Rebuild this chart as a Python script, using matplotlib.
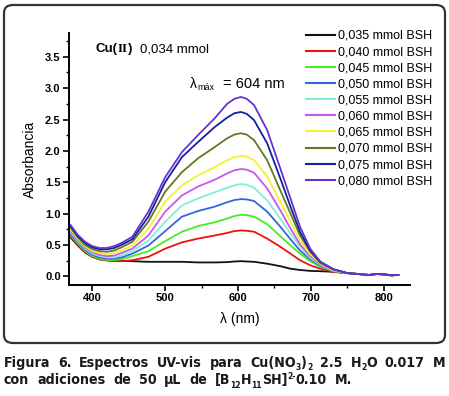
import matplotlib
matplotlib.use("Agg")
import matplotlib.pyplot as plt
from matplotlib import font_manager
from matplotlib.patches import FancyBboxPatch
from matplotlib.ticker import MultipleLocator, FormatStrFormatter
from matplotlib.lines import Line2D

plt.rcParams['font.family'] = ['Liberation Sans', 'DejaVu Sans']

# datos
wl = [370, 380, 390, 400, 410, 420, 430, 440, 455, 477, 500, 523, 545, 568, 585, 595,
      604, 612, 622, 640, 658, 672, 685, 699, 713, 731, 750, 770, 780, 790, 800, 810, 820]
tail = [0.03, 0.02, 0.035, 0.03, 0.015, 0.02]

a035 = [0.62, 0.49, 0.38, 0.31, 0.27, 0.26, 0.25, 0.245, 0.24, 0.23, 0.23, 0.23, 0.22, 0.22, 0.225, 0.235,
        0.24, 0.235, 0.23, 0.20, 0.16, 0.12, 0.10, 0.085, 0.08, 0.07, 0.05] + tail
a040 = [0.63, 0.50, 0.39, 0.31, 0.27, 0.25, 0.24, 0.24, 0.255, 0.31, 0.44, 0.54, 0.60, 0.65, 0.69, 0.72,
        0.73, 0.725, 0.71, 0.60, 0.47, 0.36, 0.255, 0.175, 0.12, 0.07, 0.05] + tail
a045 = [0.66, 0.52, 0.40, 0.32, 0.28, 0.26, 0.26, 0.27, 0.32, 0.40, 0.56, 0.71, 0.80, 0.86, 0.92, 0.96,
        0.98, 0.975, 0.95, 0.83, 0.64, 0.49, 0.36, 0.24, 0.15, 0.08, 0.05] + tail
a050 = [0.68, 0.54, 0.42, 0.34, 0.30, 0.28, 0.28, 0.30, 0.36, 0.49, 0.72, 0.95, 1.04, 1.11, 1.18, 1.215,
        1.23, 1.225, 1.20, 1.03, 0.79, 0.59, 0.41, 0.27, 0.165, 0.09, 0.05] + tail
a055 = [0.71, 0.56, 0.44, 0.36, 0.32, 0.30, 0.30, 0.33, 0.40, 0.57, 0.87, 1.13, 1.24, 1.34, 1.41, 1.45,
        1.47, 1.46, 1.41, 1.21, 0.92, 0.68, 0.47, 0.29, 0.18, 0.09, 0.05] + tail
a060 = [0.73, 0.58, 0.46, 0.38, 0.34, 0.32, 0.33, 0.37, 0.44, 0.65, 1.03, 1.29, 1.43, 1.54, 1.64, 1.69,
        1.71, 1.70, 1.65, 1.40, 1.05, 0.76, 0.51, 0.32, 0.19, 0.10, 0.05] + tail
a065 = [0.75, 0.60, 0.48, 0.40, 0.37, 0.35, 0.37, 0.41, 0.49, 0.76, 1.19, 1.45, 1.61, 1.74, 1.85, 1.90,
        1.92, 1.91, 1.85, 1.59, 1.19, 0.87, 0.57, 0.35, 0.20, 0.10, 0.05] + tail
a070 = [0.78, 0.62, 0.50, 0.43, 0.40, 0.39, 0.41, 0.46, 0.55, 0.87, 1.35, 1.66, 1.88, 2.06, 2.20, 2.26,
        2.28, 2.26, 2.17, 1.85, 1.37, 1.00, 0.65, 0.39, 0.21, 0.11, 0.05] + tail
a075 = [0.80, 0.64, 0.53, 0.46, 0.43, 0.43, 0.45, 0.50, 0.59, 0.95, 1.50, 1.90, 2.14, 2.38, 2.53, 2.60,
        2.62, 2.59, 2.49, 2.12, 1.56, 1.11, 0.71, 0.41, 0.23, 0.11, 0.05] + tail
a080 = [0.82, 0.66, 0.55, 0.48, 0.45, 0.45, 0.48, 0.53, 0.63, 1.03, 1.58, 1.98, 2.25, 2.52, 2.75, 2.83,
        2.86, 2.83, 2.73, 2.33, 1.72, 1.24, 0.79, 0.44, 0.23, 0.11, 0.05] + tail

series = [a035, a040, a045, a050, a055, a060, a065, a070, a075, a080]
labels = ['0,035 mmol BSH', '0,040 mmol BSH', '0,045 mmol BSH', '0,050 mmol BSH',
          '0,055 mmol BSH', '0,060 mmol BSH', '0,065 mmol BSH', '0,070 mmol BSH',
          '0,075 mmol BSH', '0,080 mmol BSH']
colores = ['#111111', '#ee1111', '#44ee22', '#3366dd', '#80eedd', '#cc55ee',
           '#f2f230', '#667722', '#1122a0', '#6633cc']

W, H = 449, 396
fig = plt.figure(figsize=(W / 100, H / 100), dpi=100)

def px(x, y):
    return x / W, 1 - y / H

# marco redondeado
fig.patches.append(FancyBboxPatch((4 / W, 1 - 343 / H), 441 / W, 338 / H,
                                  boxstyle="round,pad=0,rounding_size=0.02",
                                  transform=fig.transFigure, fill=False,
                                  edgecolor='#333333', linewidth=1.6))

ax = fig.add_axes([69 / W, 1 - 285 / H, 341 / W, 252 / H])
for s, c in zip(series, colores):
    ax.plot(wl, s, color=c, linewidth=1.3, solid_joinstyle='round')

ax.set_xlim(368, 836)
ax.set_ylim(-0.14, 3.88)
ax.spines['top'].set_visible(False)
ax.spines['right'].set_visible(False)
ax.spines['left'].set_linewidth(1.4)
ax.spines['bottom'].set_linewidth(1.4)
ax.xaxis.set_major_locator(MultipleLocator(100))
ax.xaxis.set_minor_locator(MultipleLocator(50))
ax.yaxis.set_major_locator(MultipleLocator(0.5))
ax.yaxis.set_minor_locator(MultipleLocator(0.25))
ax.tick_params(which='major', length=4, width=1.2, labelsize=8, pad=2)
ax.tick_params(which='minor', length=2.5, width=1.0)
for lab in ax.get_xticklabels() + ax.get_yticklabels():
    lab.set_fontweight('bold')
ax.yaxis.set_major_formatter(FormatStrFormatter('%.1f'))

ax.set_ylabel('Absorbancia', fontsize=10, labelpad=6)
ax.set_xlabel('λ (nm)', fontsize=10, labelpad=6)

handles = [Line2D([], [], color=c, linewidth=1.5) for c in colores]
fig.legend(handles, labels, loc='upper left', bbox_to_anchor=px(306, 30),
           frameon=False, fontsize=9, handlelength=2.3, handletextpad=0.25,
           labelspacing=0.33, borderpad=0, borderaxespad=0)

# anotaciones
fig.text(*px(96, 52), 'Cu(', fontsize=9.5, fontweight='bold', va='baseline')
fig.text(*px(117.5, 52), 'II', fontsize=9.5, fontweight='bold', va='baseline',
         family='Liberation Serif')
fig.text(*px(127.5, 52), ')', fontsize=9.5, fontweight='bold', va='baseline')
fig.text(*px(140, 52), '0,034 mmol', fontsize=9.5, va='baseline')
fig.text(*px(190, 88), 'λ', fontsize=10, va='baseline')
fig.text(*px(197, 90), 'máx', fontsize=6.5, va='baseline')
fig.text(*px(223, 88), '= 604 nm', fontsize=10.5, va='baseline')

# pie de figura (justificado); cada palabra: trozos (texto, tipo)
linea1 = [[('Figura', 'n')], [('6.', 'n')], [('Espectros', 'n')], [('UV-vis', 'n')],
          [('para', 'n')], [('Cu(NO', 'n'), ('3', 'sub'), (')', 'n'), ('2', 'sub')],
          [('2.5', 'n')], [('H', 'n'), ('2', 'sub'), ('O', 'n')], [('0.017', 'n')], [('M', 'n')]]
linea2 = [[('con', 'n')], [('adiciones', 'n')], [('de', 'n')], [('50', 'n')], [('µL', 'n')],
          [('de', 'n')],
          [('[B', 'n'), ('12', 'sub'), ('H', 'n'), ('11', 'sub'), ('SH]', 'n'), ('2-', 'sup'),
           ('0.10', 'n')], [('M.', 'n')]]

condensada = any(f.name == 'DejaVu Sans' and f.stretch == 'condensed'
                 for f in font_manager.fontManager.ttflist)
estilo = dict(family='DejaVu Sans', fontweight='bold', color='#1a1a1a', va='baseline')
if condensada:
    estilo['fontstretch'] = 'condensed'
    tam = 10.2
else:
    tam = 9.2

r = fig.canvas.get_renderer()
desp = {'n': 0, 'sub': 3.5, 'sup': -5}

def crear(linea, base):
    palabras = []
    for segs in linea:
        objs = []
        for s, k in segs:
            t = fig.text(0, 1 - (base + desp[k]) / H, s,
                         fontsize=tam if k == 'n' else tam * 0.6, **estilo)
            objs.append((t, t.get_window_extent(r).width))
        palabras.append(objs)
    return palabras

p1 = crear(linea1, 367)
p2 = crear(linea2, 384)
anchos1 = [sum(w for _, w in p) for p in p1]
gap = (445 - 4 - sum(anchos1)) / (len(p1) - 1)
for pal in (p1, p2):
    x = 4
    for objs in pal:
        for t, w in objs:
            t.set_x(x / W)
            x += w
        x += gap

fig.savefig('out.png', dpi=100)
